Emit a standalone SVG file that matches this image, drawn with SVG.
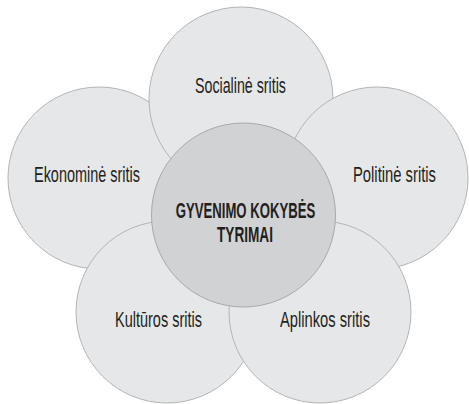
<svg xmlns="http://www.w3.org/2000/svg" width="469" height="404" viewBox="0 0 469 404">
<style>
.c{fill:#e6e7e8;stroke:#b3b4b6;stroke-width:1}
.m{fill:#d1d2d4;stroke:#a7a9ac;stroke-width:1}
text{font-family:"Liberation Sans",Arial,sans-serif;fill:#231f20;text-anchor:middle}
.l{font-size:21.5px}
.b{font-size:21.5px;font-weight:bold}
</style>
<rect width="469" height="404" fill="#ffffff"/>
<g id="connectors"/>
<g id="node-ekonomine"><circle class="c" cx="99" cy="178" r="91"/><text class="l" x="87" y="181.5" textLength="106" lengthAdjust="spacingAndGlyphs">Ekonominė sritis</text></g>
<g id="node-socialine"><circle class="c" cx="241" cy="99" r="92"/><text class="l" x="240.5" y="92.5" textLength="91" lengthAdjust="spacingAndGlyphs">Socialinė sritis</text></g>
<g id="node-politine"><circle class="c" cx="377" cy="178" r="91"/><text class="l" x="394.5" y="181.5" textLength="83" lengthAdjust="spacingAndGlyphs">Politinė sritis</text></g>
<g id="node-kulturos"><circle class="c" cx="167" cy="312" r="91"/><text class="l" x="158.5" y="327" textLength="87" lengthAdjust="spacingAndGlyphs">Kultūros sritis</text></g>
<g id="node-aplinkos"><circle class="c" cx="320" cy="312" r="91"/><text class="l" x="325" y="327" textLength="90" lengthAdjust="spacingAndGlyphs">Aplinkos sritis</text></g>
<g id="node-center"><circle class="m" cx="243.5" cy="215" r="92"/><text class="b" x="245.5" y="218" textLength="139.5" lengthAdjust="spacingAndGlyphs">GYVENIMO KOKYBĖS</text><text class="b" x="245" y="242" textLength="56" lengthAdjust="spacingAndGlyphs">TYRIMAI</text></g>
</svg>
